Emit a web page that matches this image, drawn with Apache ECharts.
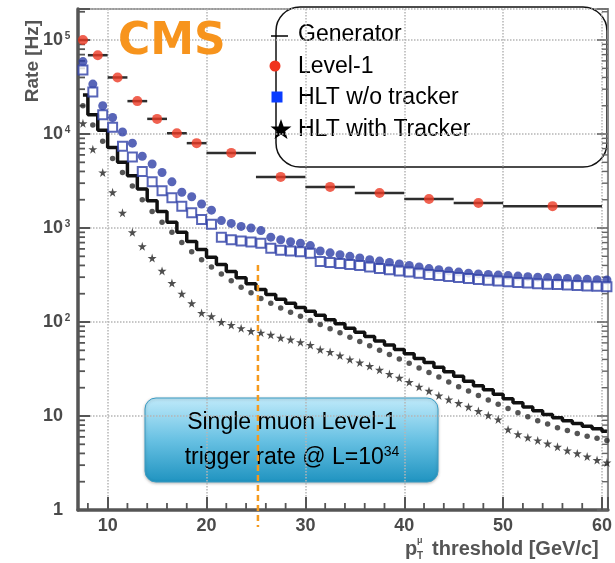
<!DOCTYPE html>
<html>
<head>
<meta charset="utf-8">
<title>Single muon trigger rate</title>
<script src="https://cdn.jsdelivr.net/npm/echarts@6/dist/echarts.min.js"></script>
<style>
  html, body { margin: 0; padding: 0; background: #fff; }
  #chart { width: 615px; height: 563px; }
</style>
</head>
<body>
<div id="chart"></div>
<script>
// pT threshold bin centres, 1 GeV/c bins
var ptBins = [7.5, 8.5, 9.5, 10.5, 11.5, 12.5, 13.5, 14.5, 15.5, 16.5, 17.5, 18.5, 19.5, 20.5,
  21.5, 22.5, 23.5, 24.5, 25.5, 26.5, 27.5, 28.5, 29.5, 30.5, 31.5, 32.5, 33.5, 34.5, 35.5,
  36.5, 37.5, 38.5, 39.5, 40.5, 41.5, 42.5, 43.5, 44.5, 45.5, 46.5, 47.5, 48.5, 49.5, 50.5,
  51.5, 52.5, 53.5, 54.5, 55.5, 56.5, 57.5, 58.5, 59.5, 60.5];

var generatorRate = [26000, 16000, 11000, 7200, 5000, 3600, 2600, 1950, 1500, 1150, 900, 720, 590, 490,
  410, 345, 295, 255, 222, 196, 175, 158, 143, 130, 118, 106, 96, 86, 78,
  70, 63, 57, 51, 46, 41, 37, 33, 29.5, 26.5, 23.5, 21, 19, 17, 15.3,
  13.8, 12.5, 11.4, 10.4, 9.6, 8.9, 8.3, 7.8, 7.3, 6.9];

// HLT with tracker (dots close to the generator curve)
var hltTrkRate = [20000, 12500, 8400, 5500, 3900, 2800, 2000, 1500, 1150, 900, 700, 560, 460, 385,
  325, 275, 235, 205, 178, 158, 141, 127, 115, 104, 94, 85, 77, 69, 62,
  56, 50, 45, 40.5, 36.5, 32.5, 29, 26, 23, 20.5, 18.5, 16.5, 14.8, 13.3, 12,
  10.8, 9.8, 8.9, 8.2, 7.5, 7.0, 6.5, 6.1, 5.8, 5.5];

// HLT with tracker, isolated (lower stars)
var hltTrkIsoRate = [13000, 6900, 3900, 2400, 1450, 900, 640, 480, 350, 260, 200, 158, 125, 115,
  100, 93, 86, 80, 77, 73, 68, 65, 61, 57, 51, 48, 44, 40, 37,
  34, 31, 28, 25.5, 23, 20.5, 18.5, 16.5, 15, 13.7, 12.5, 11.3, 10.2, 9.2, 7.2,
  6.4, 5.9, 5.5, 5.1, 4.7, 4.3, 4.0, 3.7, 3.4, 3.2];

// HLT without tracker (filled circles)
var hltNoTrkRate = [59000, 34000, 20000, 15000, 10500, 8000, 5800, 4800, 3900, 3100, 2400, 2150, 1800, 1550,
  1200, 1120, 1040, 1000, 940, 800, 750, 715, 690, 650, 570, 545, 520, 500, 480,
  460, 445, 430, 415, 400, 385, 370, 360, 350, 340, 331, 325, 320, 316, 312,
  308, 304, 300, 297, 294, 291, 288, 285, 282, 280];

// HLT without tracker, isolated (open squares)
var hltNoTrkIsoRate = [48000, 28000, 16000, 11800, 7400, 5700, 4000, 3100, 2500, 2100, 1700, 1450, 1230, 1100,
  800, 750, 730, 710, 690, 610, 580, 570, 560, 540, 440, 430, 420, 410, 400,
  385, 370, 360, 350, 340, 330, 320, 312, 305, 298, 290, 284, 278, 273, 268,
  264, 260, 256, 253, 250, 247, 244, 242, 240, 238];

// Level-1 (variable bins)
var l1BinLow = [7, 8, 10, 12, 14, 16, 18, 20, 25, 30, 35, 40, 45, 50];
var l1BinHigh = [8, 10, 12, 14, 16, 18, 20, 25, 30, 35, 40, 45, 50, 60];
var l1Rate = [100000, 69000, 40000, 22400, 14500, 10200, 8000, 6300, 3500, 2740, 2360, 2040, 1850, 1710];

var xMajorTicks = [10, 20, 30, 40, 50, 60];
var xMinorTicks = [8, 12, 14, 16, 18, 22, 24, 26, 28, 32, 34, 36, 38, 42, 44, 46, 48, 52, 54, 56, 58];
var l1RefThreshold = 25.2;

var X_MIN = 7, X_MAX = 60.6, Y_MIN = 1, Y_MAX = 2.14e5;

var yMinorTicks = [];
[1, 10, 100, 1000, 10000, 100000].forEach(function (d) {
  [2, 3, 4, 5, 6, 7, 8, 9].forEach(function (m) {
    if (d * m < Y_MAX) yMinorTicks.push(d * m);
  });
});

var FONT = 'Liberation Sans, Arial, sans-serif';
var AXIS_GREY = '#4a4a4a';
var BLUE = '#2e3fa6';
var STAR = 'path://M50,0L61,35L98,35L68,57L79,91L50,70L21,91L32,57L2,35L39,35Z';

function pairs(xs, ys) {
  return xs.map(function (x, i) { return [x, ys[i]]; });
}

function starPoints(cx, cy, R, r) {
  var pts = [];
  for (var i = 0; i < 10; i++) {
    var a = -Math.PI / 2 + i * Math.PI / 5;
    var rad = i % 2 ? r : R;
    pts.push([cx + rad * Math.cos(a), cy + rad * Math.sin(a)]);
  }
  return pts;
}

var chart = echarts.init(document.getElementById('chart'));

var option = {
  animation: false,
  backgroundColor: '#fff',
  grid: {
    left: 78, right: 7, top: 9, bottom: 53,
    show: true, borderColor: '#999', borderWidth: 2
  },
  xAxis: [{
    type: 'value',
    min: X_MIN, max: X_MAX,
    axisLine: { lineStyle: { color: '#555', width: 3.5 } },
    axisTick: { inside: true, length: 13, lineStyle: { color: '#555', width: 2 } },
    axisLabel: {
      margin: 7,
      color: AXIS_GREY, fontWeight: 'bold', fontSize: 18, fontFamily: FONT,
      formatter: function (v) { return xMajorTicks.indexOf(v) >= 0 ? String(v) : ''; }
    },
    splitLine: { show: true, lineStyle: { color: '#b5b5b5', type: 'dotted', width: 1.5 } }
  }],
  yAxis: [{
    type: 'log', logBase: 10,
    min: Y_MIN, max: Y_MAX,
    axisLine: { lineStyle: { color: '#555', width: 3.5 } },
    axisTick: { inside: true, length: 12, lineStyle: { color: '#555', width: 2 } },
    axisLabel: {
      margin: 6,
      color: AXIS_GREY, fontWeight: 'bold', fontSize: 18, fontFamily: FONT,
      formatter: function (v) {
        var lg = Math.log(v) / Math.LN10;
        var e = Math.round(lg);
        if (Math.abs(lg - e) > 1e-6) return '';
        if (e === 0) return '{b|1}{s| }';
        if (e === 1) return '{b|10}{s| }';
        return '{b|10}{s|' + e + '}';
      },
      rich: {
        b: { fontSize: 18, fontWeight: 'bold', color: AXIS_GREY, fontFamily: FONT, lineHeight: 18, verticalAlign: 'middle' },
        s: { fontSize: 10, fontWeight: 'bold', color: AXIS_GREY, fontFamily: FONT, width: 9, align: 'left',
          lineHeight: 10, padding: [0, 0, 22, 0], verticalAlign: 'top' }
      }
    },
    splitLine: { show: true, lineStyle: { color: '#b5b5b5', type: 'dotted', width: 1.5 } }
  }, {
    type: 'log', logBase: 10, position: 'right',
    min: Y_MIN, max: Y_MAX,
    axisLine: { show: true, lineStyle: { color: '#888', width: 2 } },
    axisTick: { inside: true, length: 11, lineStyle: { color: '#666', width: 1.5 } },
    axisLabel: { show: false },
    splitLine: { show: false }
  }],
  graphic: [
    // CMS logo text
    {
      type: 'text', left: 118, top: 21, z: 100,
      style: { text: 'CMS', font: 'bold 44px "DejaVu Sans", sans-serif', fill: '#f7941d' }
    },
    // y axis title
    {
      type: 'text', x: 33, y: 61, rotation: Math.PI / 2, z: 100,
      style: { text: 'Rate [Hz]', font: 'bold 19px ' + FONT, fill: '#555',
        textAlign: 'center', textVerticalAlign: 'middle' }
    },
    // x axis title
    {
      type: 'group', z: 100,
      children: [
        { type: 'text', x: 405, y: 549, style: { text: 'p', font: 'bold 20px ' + FONT, fill: '#555', textVerticalAlign: 'middle' } },
        { type: 'text', x: 417, y: 556, style: { text: 'T', font: 'bold 10px ' + FONT, fill: '#555', textVerticalAlign: 'middle' } },
        { type: 'text', x: 417, y: 541, style: { text: 'μ', font: 'bold 9px ' + FONT, fill: '#555', textVerticalAlign: 'middle' } },
        { type: 'text', x: 432, y: 549, style: { text: 'threshold [GeV/c]', font: 'bold 20px ' + FONT, fill: '#555', textVerticalAlign: 'middle' } }
      ]
    },
    // legend
    {
      type: 'group', z: 100,
      children: [
        { type: 'rect', shape: { x: 276, y: 7, width: 331, height: 160, r: 24 },
          style: { fill: '#fff', stroke: '#111', lineWidth: 1.5 } },
        { type: 'line', shape: { x1: 271, y1: 36, x2: 288, y2: 36 }, style: { stroke: '#000', lineWidth: 1.5 } },
        { type: 'circle', shape: { cx: 275, cy: 66, r: 5.5 }, style: { fill: '#f0321e' } },
        { type: 'rect', shape: { x: 271.5, y: 91.5, width: 11, height: 11 }, style: { fill: '#0a3cff' } },
        { type: 'polygon', shape: { points: starPoints(281, 130, 11, 4.4) }, style: { fill: '#000' } },
        { type: 'text', x: 298, y: 35, style: { text: 'Generator', font: '23px ' + FONT, fill: '#000', textVerticalAlign: 'middle' } },
        { type: 'text', x: 298, y: 67, style: { text: 'Level-1', font: '23px ' + FONT, fill: '#000', textVerticalAlign: 'middle' } },
        { type: 'text', x: 298, y: 98, style: { text: 'HLT w/o tracker', font: '23px ' + FONT, fill: '#000', textVerticalAlign: 'middle' } },
        { type: 'text', x: 298, y: 130, style: { text: 'HLT with Tracker', font: '23px ' + FONT, fill: '#000', textVerticalAlign: 'middle' } }
      ]
    },
    // annotation box
    {
      type: 'group', z: 5,
      children: [
        { type: 'rect', shape: { x: 145, y: 398, width: 293, height: 84, r: 11 },
          style: {
            stroke: '#3a9cc4', lineWidth: 1,
            fill: new echarts.graphic.LinearGradient(0, 0, 0, 1, [
              { offset: 0, color: '#c0eafa' },
              { offset: 0.5, color: '#68c1e3' },
              { offset: 1, color: '#1f93c0' }
            ]),
            shadowColor: 'rgba(0,0,0,0.25)', shadowBlur: 3, shadowOffsetY: 1
          } },
        { type: 'text', x: 292, y: 423, style: { text: 'Single muon Level-1', font: '23px ' + FONT, fill: '#000',
          textAlign: 'center', textVerticalAlign: 'middle' } },
        { type: 'text', x: 292, y: 457, style: {
          text: '{a|trigger rate @ L=10}{b|34}',
          rich: {
            a: { font: '23px ' + FONT, fill: '#000', lineHeight: 24, verticalAlign: 'bottom' },
            b: { font: '14px ' + FONT, fill: '#000', lineHeight: 24, verticalAlign: 'top' }
          },
          textAlign: 'center', textVerticalAlign: 'middle' } }
      ]
    }
  ],
  series: [
    {
      name: 'x minor ticks', type: 'custom', silent: true, clip: false, z: 4,
      data: xMinorTicks.map(function (v) { return [v, Y_MIN]; }),
      encode: { x: 0, y: 1 },
      renderItem: function (params, api) {
        var p = api.coord([api.value(0), Y_MIN]);
        return { type: 'line', shape: { x1: p[0], y1: p[1], x2: p[0], y2: p[1] - 7 },
          style: { stroke: '#555', lineWidth: 1.8 } };
      }
    },
    {
      name: 'y minor ticks', type: 'custom', silent: true, clip: false, z: 4,
      data: yMinorTicks.map(function (v) { return [X_MIN, v]; }),
      encode: { x: 0, y: 1 },
      renderItem: function (params, api) {
        var l = api.coord([X_MIN, api.value(1)]);
        var r = api.coord([X_MAX, api.value(1)]);
        return { type: 'group', children: [
          { type: 'line', shape: { x1: l[0], y1: l[1], x2: l[0] + 7, y2: l[1] }, style: { stroke: '#555', lineWidth: 1.8 } },
          { type: 'line', shape: { x1: r[0], y1: r[1], x2: r[0] - 6, y2: r[1] }, style: { stroke: '#666', lineWidth: 1.4 } }
        ] };
      }
    },
    {
      name: 'Generator', type: 'line', step: 'middle',
      data: pairs(ptBins, generatorRate),
      showSymbol: false, symbol: 'none',
      lineStyle: { color: '#111', width: 3.5 }, z: 6
    },
    {
      name: 'HLT with Tracker', type: 'scatter',
      data: pairs(ptBins, hltTrkRate),
      symbol: 'circle', symbolSize: 5.5,
      itemStyle: { color: '#2a2a2a' }, z: 7
    },
    {
      name: 'HLT with Tracker', type: 'scatter',
      data: pairs(ptBins, hltTrkIsoRate),
      symbol: STAR, symbolSize: 9,
      itemStyle: { color: '#222' }, z: 7
    },
    {
      name: 'HLT w/o tracker', type: 'scatter',
      data: pairs(ptBins, hltNoTrkRate),
      symbol: 'circle', symbolSize: 9,
      itemStyle: { color: BLUE }, z: 7
    },
    {
      name: 'HLT w/o tracker', type: 'scatter',
      data: pairs(ptBins, hltNoTrkIsoRate),
      symbol: 'rect', symbolSize: 9,
      itemStyle: { color: '#fff', borderColor: BLUE, borderWidth: 2 }, z: 8
    },
    {
      name: 'Level-1 bins', type: 'custom', z: 8,
      data: l1BinLow.map(function (lo, i) { return [lo, l1BinHigh[i], l1Rate[i]]; }),
      encode: { x: [0, 1], y: 2 },
      renderItem: function (params, api) {
        var a = api.coord([api.value(0), api.value(2)]);
        var b = api.coord([api.value(1), api.value(2)]);
        return { type: 'line', shape: { x1: a[0], y1: a[1], x2: b[0], y2: b[1] },
          style: { stroke: '#2e2e2e', lineWidth: 2.5 } };
      }
    },
    {
      name: 'Level-1', type: 'scatter', z: 9,
      data: l1BinLow.map(function (lo, i) { return [(lo + l1BinHigh[i]) / 2, l1Rate[i]]; }),
      symbol: 'circle', symbolSize: 10,
      itemStyle: { color: '#ec3a24' }
    },
    {
      name: 'threshold', type: 'line', z: 20, clip: false,
      data: [[l1RefThreshold, 405], [l1RefThreshold, 0.66]],
      symbol: 'none',
      lineStyle: { color: '#f59a1e', width: 2.5, type: [6, 4] }
    }
  ]
};

chart.setOption(option);
</script>
</body>
</html>
